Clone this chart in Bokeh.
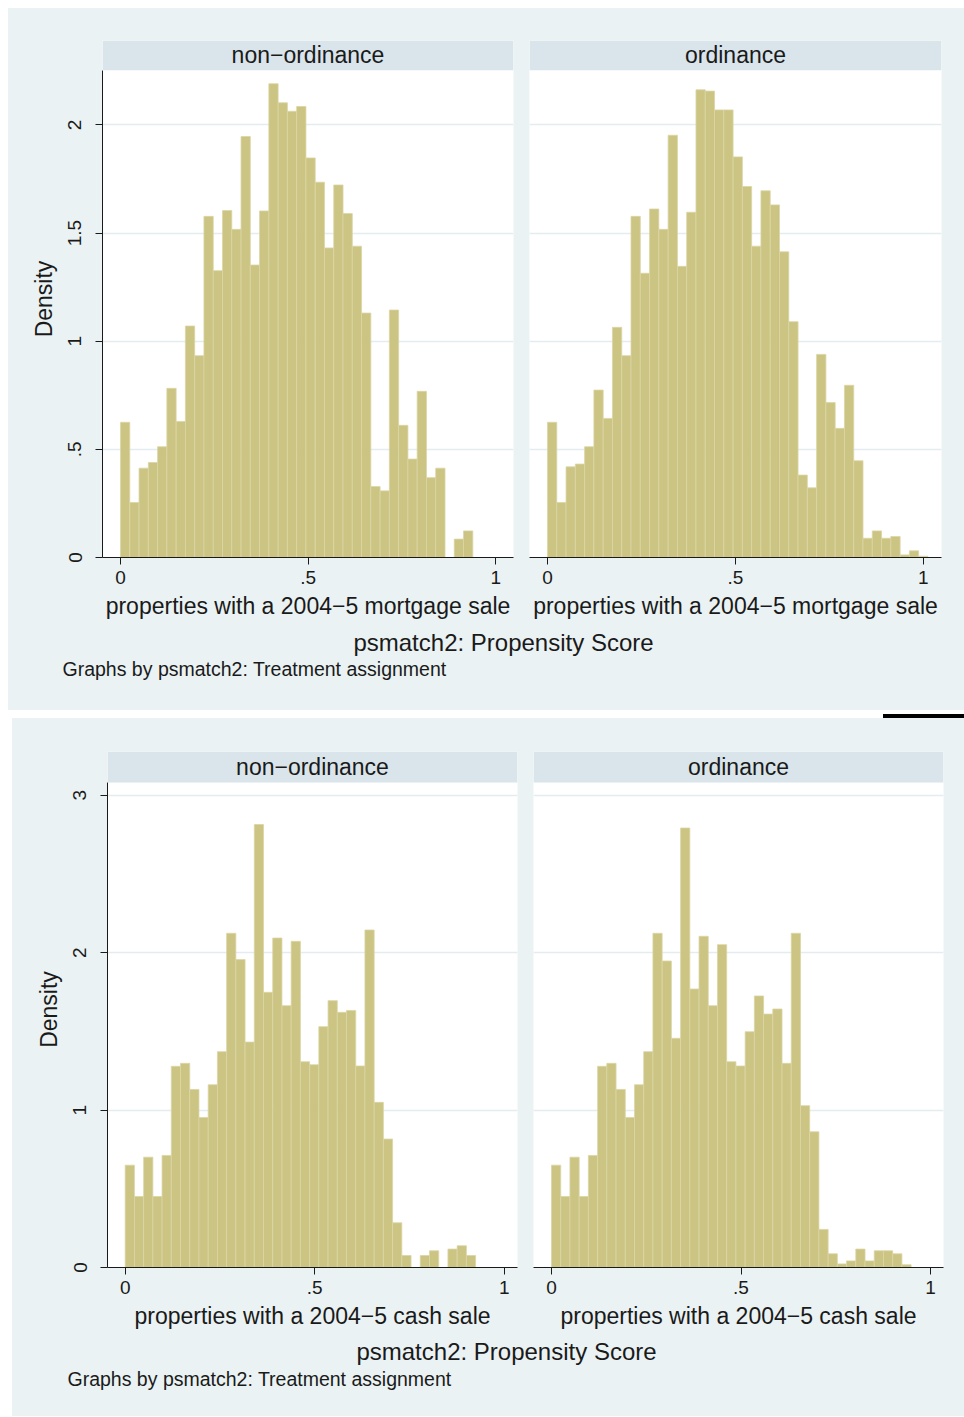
import numpy as np
from bokeh.plotting import figure
from bokeh.models import Range1d, FixedTicker, BoxAnnotation, Label, Grid, Spacer, ColumnDataSource
from bokeh.layouts import row, column
from bokeh.embed import file_html
from bokeh.resources import INLINE

# ---------------- data ----------------
panel_titles = ["non\u2212ordinance", "ordinance"]
mortgage_xlabel = "properties with a 2004\u22125 mortgage sale"
cash_xlabel = "properties with a 2004\u22125 cash sale"
overall_title = "psmatch2: Propensity Score"
note_text = "Graphs by psmatch2: Treatment assignment"
y_title = "Density"

x_ticks = [0, 0.5, 1]
x_tick_labels = ["0", ".5", "1"]
mortgage_y_ticks = [0, 0.5, 1, 1.5, 2]
mortgage_y_tick_labels = ["0", ".5", "1", "1.5", "2"]
cash_y_ticks = [0, 1, 2, 3]
cash_y_tick_labels = ["0", "1", "2", "3"]

mortgage_bin_start = 0.0
mortgage_bin_width = 0.0247
mortgage_nonord = [0.625, 0.254, 0.413, 0.439, 0.512, 0.782, 0.629, 1.070, 0.933, 1.577,
                   1.326, 1.604, 1.517, 1.946, 1.352, 1.602, 2.190, 2.102, 2.063, 2.085,
                   1.847, 1.735, 1.431, 1.722, 1.590, 1.439, 1.130, 0.328, 0.308, 1.144,
                   0.611, 0.455, 0.768, 0.369, 0.413, 0.0, 0.085, 0.123, 0.0, 0.0, 0.0]
mortgage_ord = [0.625, 0.254, 0.419, 0.432, 0.512, 0.774, 0.643, 1.064, 0.933, 1.577,
                1.314, 1.611, 1.517, 1.952, 1.346, 1.596, 2.162, 2.156, 2.069, 2.069,
                1.852, 1.715, 1.439, 1.695, 1.630, 1.413, 1.090, 0.381, 0.322, 0.939,
                0.716, 0.597, 0.796, 0.447, 0.089, 0.123, 0.089, 0.097, 0.012, 0.031, 0.006]

cash_bin_start = 0.0
cash_bin_width = 0.02433
cash_nonord = [0.650, 0.451, 0.701, 0.451, 0.712, 1.278, 1.297, 1.131, 0.953, 1.161,
               1.371, 2.123, 1.956, 1.432, 2.814, 1.748, 2.093, 1.663, 2.072, 1.307,
               1.288, 1.530, 1.695, 1.621, 1.633, 1.280, 2.144, 1.049, 0.816, 0.284,
               0.076, 0.0, 0.076, 0.106, 0.0, 0.117, 0.138, 0.076, 0.0]
cash_ord = [0.650, 0.451, 0.701, 0.451, 0.712, 1.278, 1.297, 1.131, 0.953, 1.161,
            1.371, 2.123, 1.947, 1.456, 2.792, 1.769, 2.104, 1.663, 2.051, 1.307,
            1.280, 1.498, 1.725, 1.610, 1.642, 1.297, 2.123, 1.028, 0.862, 0.242,
            0.087, 0.023, 0.042, 0.117, 0.042, 0.106, 0.106, 0.087, 0.017]

# ---------------- style ----------------
FONT = "Liberation Sans"
BG = "#EAF2F3"
STRIP = "#D9E5EA"
BAR = "#CCC483"
BAR_LINE = "#DAD6A5"
GRID = "#E3ECEF"
INK = "#1a1a1a"


def panel(title, dens, start, width, xr, data_top, y_top, yticks, ylabels, show_y,
          mb_left, mb_right, frame_w, mb_top, mb_bottom, frame_h, xlabel):
    fw = mb_left + frame_w + mb_right
    fh = mb_top + frame_h + mb_bottom
    p = figure(width=fw, height=fh, x_range=Range1d(*xr), y_range=Range1d(0, y_top),
               output_backend="svg", toolbar_location=None,
               y_axis_location="left" if show_y else None,
               min_border_left=mb_left, min_border_right=mb_right,
               min_border_top=mb_top, min_border_bottom=mb_bottom,
               background_fill_color="white", border_fill_color=BG,
               outline_line_color=None)
    p.grid.visible = False
    g = Grid(dimension=1, ticker=FixedTicker(ticks=yticks), grid_line_color=GRID,
             grid_line_width=1.5)
    p.add_layout(g)

    n = len(dens)
    left = start + width * np.arange(n)
    src = ColumnDataSource(dict(left=left, right=left + width, top=dens))
    p.quad(left="left", right="right", bottom=0, top="top", source=src,
           fill_color=BAR, line_color=BAR_LINE, line_width=0.8)

    xa = p.xaxis[0]
    xa.ticker = FixedTicker(ticks=x_ticks)
    xa.major_label_overrides = {t: l for t, l in zip(x_ticks, x_tick_labels)}
    xa.axis_label = xlabel
    for ax in [xa] + (list(p.yaxis) if show_y else []):
        ax.axis_line_color = INK
        ax.axis_line_width = 1
        ax.major_tick_line_color = INK
        ax.major_tick_out = 7
        ax.major_tick_in = 0
        ax.minor_tick_line_color = None
        ax.major_label_text_font = FONT
        ax.major_label_text_font_size = "19px"
        ax.major_label_text_color = INK
        ax.axis_label_text_font = FONT
        ax.axis_label_text_font_size = "23px"
        ax.axis_label_text_font_style = "normal"
        ax.axis_label_text_color = INK
    xa.major_label_standoff = 6
    xa.axis_label_standoff = 6
    if show_y:
        ya = p.yaxis[0]
        ya.ticker = FixedTicker(ticks=yticks)
        ya.major_label_overrides = {t: l for t, l in zip(yticks, ylabels)}
        ya.major_label_orientation = "parallel"
        ya.major_label_standoff = 14
        ya.axis_label = y_title
        ya.axis_label_standoff = 9
        ya.bounds = (0, data_top)

    strip = BoxAnnotation(bottom=data_top, fill_color=STRIP, fill_alpha=1.0,
                          line_color=None)
    p.add_layout(strip)
    p.add_layout(Label(x=(xr[0] + xr[1]) / 2, y=(data_top + y_top) / 2, text=title,
                       text_align="center", text_baseline="middle",
                       text_font=FONT, text_font_size="23px", text_color=INK))
    return p


def text_fig(w, h, title_x, title_y, note_x, note_y):
    p = figure(width=w, height=h, x_range=Range1d(0, w), y_range=Range1d(h, 0),
               output_backend="svg", toolbar_location=None,
               x_axis_location=None, y_axis_location=None,
               min_border_left=0, min_border_right=0, min_border_top=0, min_border_bottom=0,
               background_fill_color=BG, border_fill_color=BG, outline_line_color=None)
    p.grid.visible = False
    p.add_layout(Label(x=title_x, y=title_y, text=overall_title, text_align="center",
                       text_baseline="middle", text_font=FONT, text_font_size="24px",
                       text_color=INK))
    p.add_layout(Label(x=note_x, y=note_y, text=note_text, text_align="left",
                       text_baseline="middle", text_font=FONT, text_font_size="19.5px",
                       text_color=INK))
    return p


# top graph (mortgage)
tl = panel(panel_titles[0], mortgage_nonord, mortgage_bin_start, mortgage_bin_width,
           (-0.048, 1.047), 2.2526, 2.390, mortgage_y_ticks, mortgage_y_tick_labels, True,
           94, 8, 411, 32, 68, 517, mortgage_xlabel)
tr = panel(panel_titles[1], mortgage_ord, mortgage_bin_start, mortgage_bin_width,
           (-0.0479, 1.0487), 2.2526, 2.390, mortgage_y_ticks, mortgage_y_tick_labels, False,
           8, 23, 412, 32, 68, 517, mortgage_xlabel)
top_text = text_fig(956, 85, 495, 17, 54, 43)

# bottom graph (cash)
bl = panel(panel_titles[0], cash_nonord, cash_bin_start, cash_bin_width,
           (-0.0467, 1.0351), 3.081, 3.278, cash_y_ticks, cash_y_tick_labels, True,
           95, 8, 410, 33, 68, 516, cash_xlabel)
br = panel(panel_titles[1], cash_ord, cash_bin_start, cash_bin_width,
           (-0.0475, 1.0343), 3.081, 3.278, cash_y_ticks, cash_y_tick_labels, False,
           8, 21, 410, 33, 68, 516, cash_xlabel)
bottom_text = text_fig(952, 81, 494, 16, 55, 43)

top_block = column(row(tl, tr, styles={"background-color": BG}), top_text,
                   styles={"background-color": BG})
gap1 = Spacer(width=956, height=4)
black_row = row(Spacer(width=875, height=4),
                Spacer(width=81, height=4, styles={"background-color": "#000000"}))
bottom_block = row(Spacer(width=4, height=698),
                   column(row(bl, br, styles={"background-color": BG}), bottom_text,
                          styles={"background-color": BG}))

content = column(top_block, gap1, black_row, bottom_block)
layout = column(Spacer(width=964, height=8), row(Spacer(width=8, height=1409), content))

with open("out.html", "w") as f:
    f.write(file_html(layout, INLINE))
